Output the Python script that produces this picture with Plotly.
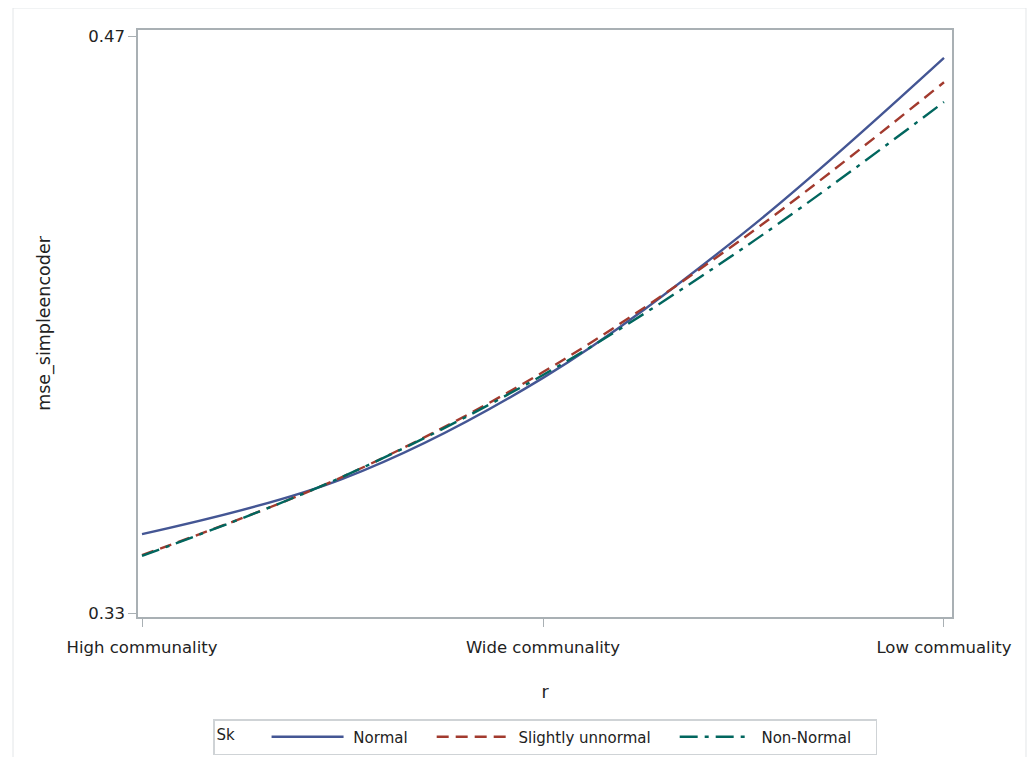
import plotly.graph_objects as go

categories = ["High communality", "Wide communality", "Low commuality"]
category_positions = [0, 1, 2]
r_positions = [0, 0.5, 1, 1.5, 2]
normal = [0.3492, 0.3626, 0.3871, 0.4222, 0.4647]
slightly_unnormal = [0.3441, 0.3631, 0.3885, 0.4210, 0.4588]
non_normal = [0.3439, 0.3631, 0.3878, 0.4186, 0.4540]
series_names = ["Normal", "Slightly unnormal", "Non-Normal"]
y_ticks = [0.33, 0.47]

font_family = "DejaVu Sans, Open Sans, sans-serif"
text_color = "#222222"
axis_color = "#a9b0b4"

fig = go.Figure()
styles = [("#445694", "solid"), ("#A23A2E", "12px,7px"), ("#01665E", "18px,7px,4px,7px")]
for name, vals, (color, dash) in zip(series_names, [normal, slightly_unnormal, non_normal], styles):
    fig.add_trace(go.Scatter(
        x=r_positions, y=vals, name="\u00a0" + name + "\u00a0\u00a0\u00a0\u00a0", mode="lines",
        line=dict(color=color, width=2.4, dash=dash, shape="spline", smoothing=1.0),
    ))

fig.update_layout(
    width=1019, height=749,
    margin=dict(l=130, r=75, t=22, b=140),
    paper_bgcolor="white", plot_bgcolor="white",
    font=dict(family=font_family, size=16, color=text_color),
    showlegend=True,
    legend=dict(
        orientation="h", xref="paper", x=0.5, xanchor="center",
        yref="container", y=1 - 711 / 749, yanchor="top",
        title=dict(text="Sk     ", font=dict(size=15), side="left"),
        bordercolor="#cfd3d6", borderwidth=1.5,
        font=dict(size=15), itemwidth=72,
    ),
    xaxis=dict(
        tickvals=category_positions, ticktext=categories,
        range=[-0.01, 2.02], showgrid=False, zeroline=False,
        showline=True, linecolor=axis_color, linewidth=1.5, mirror=True,
        ticks="outside", ticklen=8, tickcolor=axis_color,
        ticklabelstandoff=6,
        title=dict(text="r", font=dict(size=17.5), standoff=30),
        tickfont=dict(size=16.5),
    ),
    yaxis=dict(
        tickvals=y_ticks, ticktext=[f"{v:.2f}" for v in y_ticks],
        range=[0.3291, 0.47146], showgrid=False, zeroline=False,
        showline=True, linecolor=axis_color, linewidth=1.5, mirror=True,
        ticks="outside", ticklen=8, tickcolor=axis_color,
        title=dict(text="mse_simpleencoder", font=dict(size=17.5), standoff=33),
        tickfont=dict(size=16.5),
    ),
)

# outer frame around the whole graph
fig.add_shape(type="rect", xref="paper", yref="paper",
              x0=-0.15356, x1=1.0909, y0=-0.26, y1=1.03748,
              line=dict(color="#e3e6e8", width=1), layer="below")

fig.write_html("out.html")
